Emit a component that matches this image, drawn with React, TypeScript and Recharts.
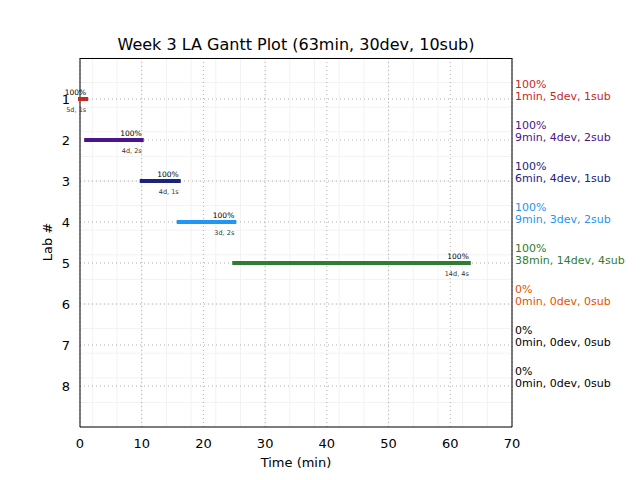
import React from "react";
import { ComposedChart, Scatter, XAxis, YAxis, CartesianGrid } from "recharts";

const labs = [1, 2, 3, 4, 5, 6, 7, 8];
const starts = [0, 1, 10, 16, 25];
const ends = [1, 10, 16, 25, 63];
const minutes = [1, 9, 6, 9, 38, 0, 0, 0];
const devs = [5, 4, 4, 3, 14, 0, 0, 0];
const subs = [1, 2, 1, 2, 4, 0, 0, 0];
const pcts = [100, 100, 100, 100, 100, 0, 0, 0];
const colors = ["#c62828", "#4a148c", "#1a237e", "#2196f3", "#2e7d32", "#e65100", "#000000", "#000000"];

const xTicks = [0, 10, 20, 30, 40, 50, 60, 70];
const minorX = Array.from({ length: 36 }, (_, i) => i * 2);
const minorY = Array.from({ length: 46 }, (_, i) => Math.round(i * 2) / 10);

const font = "DejaVu Sans, sans-serif";

const segments = starts.map((s, i) => [
  { x: s, y: labs[i] },
  { x: ends[i], y: labs[i], end: true, i },
]);

// anchors for the right-hand annotation axis
const labAnchors = labs.map((lab) => ({ x: 0, y: lab }));

const EndLabel = (props: any) => {
  const { cx, cy, payload } = props;
  if (!payload || !payload.end) return <g />;
  const i = payload.i;
  return (
    <g>
      <text x={cx} y={cy - 4.5} textAnchor="end" fontSize={7.5} fill="#000" fontFamily={font}>
        {pcts[i]}%
      </text>
      <text x={cx} y={cy + 12.5} textAnchor="end" fontSize={6.5} fill="#333" fontFamily={font}>
        {devs[i]}d, {subs[i]}s
      </text>
    </g>
  );
};

const RightTick = (props: any) => {
  const { x, y, payload } = props;
  const i = labs.indexOf(payload.value);
  if (i < 0) return <g />;
  return (
    <g>
      <text x={x} y={y - 11} fontSize={11} fill={colors[i]} fontFamily={font}>
        {pcts[i]}%
      </text>
      <text x={x} y={y + 1} fontSize={11} fill={colors[i]} fontFamily={font}>
        {minutes[i]}min, {devs[i]}dev, {subs[i]}sub
      </text>
    </g>
  );
};

export default function App() {
  return (
    <div style={{ position: "absolute", left: 0, top: 0, width: 640, height: 480, background: "#fff", fontFamily: font }}>
      <div style={{ position: "absolute", left: 80, width: 432, top: 35, textAlign: "center", fontSize: 16, lineHeight: "20px" }}>
        Week 3 LA Gantt Plot (63min, 30dev, 10sub)
      </div>
      <div style={{ position: "absolute", left: 80, width: 432, top: 454, textAlign: "center", fontSize: 13, lineHeight: "18px" }}>
        Time (min)
      </div>
      <div
        style={{
          position: "absolute",
          left: 48,
          top: 242,
          fontSize: 13,
          lineHeight: "18px",
          whiteSpace: "nowrap",
          transform: "translate(-50%, -50%) rotate(-90deg)",
        }}
      >
        Lab #
      </div>
      <ComposedChart width={640} height={480} margin={{ top: 58, right: 0, bottom: 23, left: 0 }}>
        <CartesianGrid stroke="#f2f2f2" verticalValues={minorX} horizontalValues={minorY} />
        <CartesianGrid stroke="#b0b0b0" strokeDasharray="1 3" verticalValues={xTicks} horizontalValues={labs} />
        <XAxis
          type="number"
          dataKey="x"
          domain={[0, 70]}
          ticks={xTicks}
          height={30}
          tickLine={false}
          tickSize={0}
          tickMargin={12}
          axisLine={{ stroke: "#000" }}
          tick={{ fill: "#000", fontSize: 13, fontFamily: font }}
        />
        <YAxis
          type="number"
          dataKey="y"
          domain={[0, 9]}
          reversed
          ticks={labs}
          width={80}
          tickLine={false}
          tickSize={0}
          tickMargin={10}
          axisLine={{ stroke: "#000" }}
          tick={{ fill: "#000", fontSize: 13, fontFamily: font }}
        />
        <YAxis
          yAxisId="right"
          orientation="right"
          type="number"
          dataKey="y"
          domain={[0, 9]}
          reversed
          ticks={labs}
          width={128}
          tickLine={false}
          tickSize={0}
          tickMargin={3}
          axisLine={{ stroke: "#000" }}
          tick={<RightTick />}
        />
        <Scatter data={labAnchors} yAxisId="right" isAnimationActive={false} shape={() => <g />} />
        {segments.map((seg, i) => (
          <Scatter
            key={i}
            data={seg}
            isAnimationActive={false}
            line={{ stroke: colors[i], strokeWidth: 4, strokeLinecap: "square" }}
            lineType="joint"
            shape={<EndLabel />}
          />
        ))}
      </ComposedChart>
      <div style={{ position: "absolute", left: 80, top: 58, width: 432, height: 0, borderTop: "1px solid #000" }} />
    </div>
  );
}
